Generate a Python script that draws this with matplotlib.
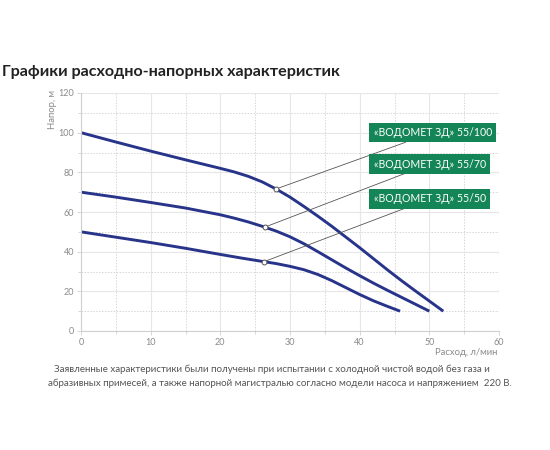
import matplotlib
matplotlib.use("Agg")
import matplotlib.pyplot as plt
from matplotlib.ticker import MultipleLocator

plt.rcParams['font.family'] = ['Lato', 'DejaVu Sans']

# data (flow l/min, head m)
x_100 = [0, 5, 10, 15, 20, 22, 24, 26, 28, 30, 32, 34, 36, 38, 40, 42, 44, 46, 48, 50, 52]
y_100 = [100, 95.3, 90.7, 86.3, 82, 80.2, 78, 75.2, 71.6, 67.5, 62.8, 57.9, 52.8, 47.4, 42, 36.4, 30.8, 25.4, 20.2, 15.1, 10]
x_70 = [0, 5, 10, 15, 20, 22, 24, 26, 28, 30, 32, 34, 36, 38, 40, 42, 44, 46, 48, 50]
y_70 = [70, 67.5, 64.8, 62, 58.6, 56.9, 55, 52.8, 50.4, 47.5, 44, 40, 35.9, 31.8, 27.9, 24.1, 20.5, 17, 13.5, 10]
x_50 = [0, 5, 10, 15, 20, 23, 26, 28, 30, 32, 34, 36, 38, 40, 42, 44, 45.8]
y_50 = [50, 47.3, 44.6, 41.7, 38.6, 36.8, 35.1, 34, 32.6, 30.9, 28.5, 25.4, 21.9, 18.4, 15.2, 12.4, 10]
labels = ["«ВОДОМЕТ ЗД» 55/100", "«ВОДОМЕТ ЗД» 55/70", "«ВОДОМЕТ ЗД» 55/50"]
marker_x = [28, 26.4, 26.3]
marker_y = [71.6, 52.4, 35]
label_y = [100.1, 84.2, 66.6]
x_ticks = [0, 10, 20, 30, 40, 50, 60]
y_ticks = [0, 20, 40, 60, 80, 100, 120]
title = 'Графики расходно-напорных характеристик'
note1 = 'Заявленные характеристики были получены при испытании с холодной чистой водой без газа и'
note2 = 'абразивных примесей, а также напорной магистралью согласно модели насоса и напряжением  220 В.'

line_color = '#28348a'
green = '#138556'
grey = '#8a8a8a'

fig = plt.figure(figsize=(5.5, 4.5), dpi=100)
ax = fig.add_axes([81/550, 1-331/450, 418/550, 238/450])
ax.set_xlim(0, 60)
ax.set_ylim(0, 120)
ax.set_xticks(x_ticks)
ax.set_yticks(y_ticks)
ax.xaxis.set_minor_locator(MultipleLocator(5))
ax.yaxis.set_minor_locator(MultipleLocator(10))
ax.grid(which='major', color='#e6e6e6', lw=0.8)
ax.grid(which='minor', color='#d6d6d6', lw=0.7, ls=(0, (1.5, 1.5)))
ax.set_axisbelow(True)
for s in ['top', 'right']:
    ax.spines[s].set_visible(False)
for s in ['left', 'bottom']:
    ax.spines[s].set_color('#d0d0d0')
    ax.spines[s].set_linewidth(0.8)
ax.tick_params(which='both', colors='#d0d0d0', labelcolor=grey, labelsize=6.5, length=3, width=0.6, pad=2)
ax.tick_params(which='minor', length=2)

for xs, ys in [(x_100, y_100), (x_70, y_70), (x_50, y_50)]:
    ax.plot(xs, ys, color=line_color, lw=2.1, solid_capstyle='butt', solid_joinstyle='round')

for mx, my, ly, lab in zip(marker_x, marker_y, label_y, labels):
    ax.annotate(lab, xy=(mx, my), xytext=(42.0, ly), textcoords='data',
                fontsize=7.6, color='white', va='center', ha='left',
                bbox=dict(boxstyle='square,pad=0.4', fc=green, ec='none'),
                arrowprops=dict(arrowstyle='-', color='#555555', lw=0.6,
                                shrinkA=0, shrinkB=0))
    ax.plot(mx, my, 'o', ms=3.5, mfc='white', mec='#555555', mew=0.7, zorder=5)

ax.text(-3.4, 121.5, 'Напор, м', rotation=90, ha='right', va='top', fontsize=6.8, color=grey)
ax.text(59.8, -8.6, 'Расход, л/мин', ha='right', va='top', fontsize=6.8, color=grey)

fig.text(2/550, 1-72/450, title, fontsize=11.6, fontweight='bold',
         color='#222222', ha='left', va='center')
fig.text(271.5/550, 1-369/450, note1, fontsize=7.0, color='#555555', ha='center', va='center')
fig.text(280/550, 1-383/450, note2, fontsize=7.0, color='#555555', ha='center', va='center')

fig.savefig('out.png', dpi=100)
